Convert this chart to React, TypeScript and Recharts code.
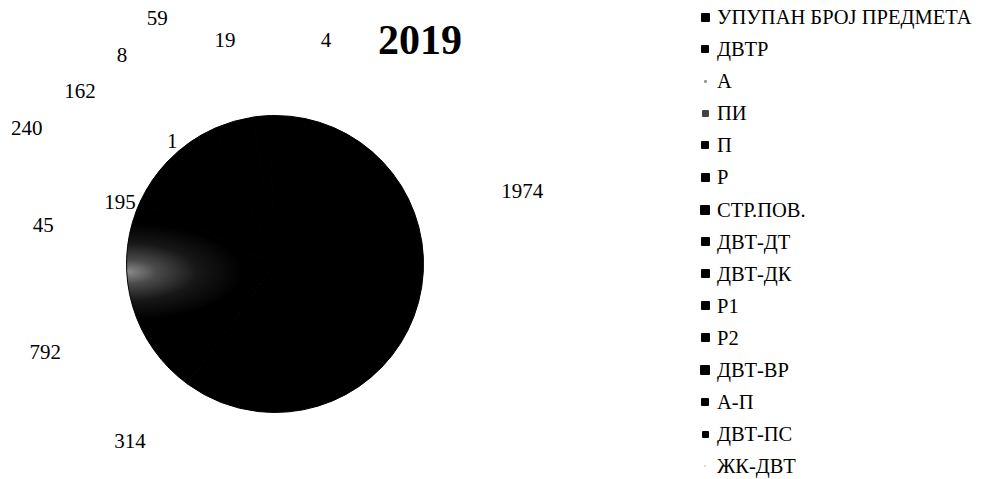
import React from 'react';
import { PieChart, Pie, Cell, Legend } from 'recharts';

// categories in legend order, with the number of cases per category
const CATEGORIES = [
    'УПУПАН БРОЈ ПРЕДМЕТА',
    'ДВТР',
    'А',
    'ПИ',
    'П',
    'Р',
    'СТР.ПОВ.',
    'ДВТ-ДТ',
    'ДВТ-ДК',
    'Р1',
    'Р2',
    'ДВТ-ВР',
    'А-П',
    'ДВТ-ПС',
    'ЖК-ДВТ',
];
const VALUES = [1974, 314, 792, 45, 195, 1, 240, 162, 8, 59, 19, 4, 0, 0, 0];
const TITLE = '2019';

// scanned look: every slice came out black, one with a grey smudge
const SLICE_COLORS = [
    '#000', '#000', 'url(#scanPatch)', '#000', '#000', '#000', '#000', '#000',
    '#000', '#000', '#000', '#000', '#000', '#000', '#000',
];
// legend marker style: [size, colour]
const MARKERS: [number, string][] = [
    [9, '#000'], [8, '#000'], [3, '#999'], [7, '#444'], [8, '#000'], [9, '#000'], [10, '#000'],
    [9, '#000'], [9, '#000'], [9, '#000'], [9, '#000'], [10, '#000'], [8, '#000'], [7, '#000'], [2, '#ccc'],
];
// label placement tweak around each slice: [angle shift in degrees, distance from centre]
const LABEL_LAYOUT: [number, number][] = [
    [-19.7, 258], [18.1, 229], [-4.3, 246], [-13.4, 235], [-12.5, 167], [6.6, 160],
    [-26.2, 283], [-32.2, 261], [-28.1, 259], [-20.6, 273], [-11.3, 230], [13.0, 230],
];

const data = CATEGORIES.map((name, i) => ({ name, value: VALUES[i] }));

const SERIF = '"Liberation Serif", "Times New Roman", Times, serif';
const ROW = 32.1;

const renderLabel = (props: any) => {
    const { cx, cy, midAngle, index, value } = props;
    if (!value) return null;
    const [shift, dist] = LABEL_LAYOUT[index] || [0, 200];
    const compass = ((90 - midAngle + shift) * Math.PI) / 180;
    const x = cx + dist * Math.sin(compass);
    const y = cy - dist * Math.cos(compass);
    return (
        <text x={x} y={y} textAnchor="middle" dominantBaseline="central"
            style={{ fontFamily: SERIF }} fontSize={21} fill="#000">
            {value}
        </text>
    );
};

const renderLegend = (props: any) => {
    // keep the legend in the data order, not alphabetical
    const items = [...(props.payload || [])].sort(
        (a: any, b: any) => CATEGORIES.indexOf(a.value) - CATEGORIES.indexOf(b.value)
    );
    return (
        <div style={{ fontFamily: SERIF, fontSize: 20.5, color: '#000' }}>
            {items.map((entry: any) => {
                const i = CATEGORIES.indexOf(entry.value);
                const [size, color] = MARKERS[i] || [9, '#000'];
                return (
                    <div key={entry.value} style={{ height: ROW, position: 'relative', whiteSpace: 'nowrap' }}>
                        <span style={{
                            position: 'absolute', left: 9 - size / 2, top: 17 - size / 2,
                            width: size, height: size, background: color, borderRadius: 1,
                        }} />
                        <span style={{ position: 'absolute', left: 21, top: 8, lineHeight: '18px', fontFamily: SERIF }}>
                            {entry.value}
                        </span>
                    </div>
                );
            })}
        </div>
    );
};

const App: React.FC = () => {
    return (
        <div style={{ position: 'absolute', left: 0, top: 0, width: 989, height: 479, background: '#fff', overflow: 'hidden' }}>
            <PieChart width={989} height={479} margin={{ top: 0, right: 0, bottom: 0, left: 0 }}>
                <defs>
                    <radialGradient id="scanPatch" gradientUnits="userSpaceOnUse" cx={128} cy={272} r={115}
                        gradientTransform="translate(128 272) scale(1 0.42) translate(-128 -272)">
                        <stop offset="0%" stopColor="#8a8a8a" />
                        <stop offset="25%" stopColor="#4a4a4a" />
                        <stop offset="60%" stopColor="#171717" />
                        <stop offset="100%" stopColor="#000" />
                    </radialGradient>
                </defs>
                <Pie
                    data={data}
                    dataKey="value"
                    nameKey="name"
                    cx={275}
                    cy={264}
                    outerRadius={148.5}
                    startAngle={90}
                    endAngle={-270}
                    stroke="#000"
                    strokeWidth={1}
                    label={renderLabel}
                    labelLine={false}
                    isAnimationActive={false}
                >
                    {data.map((d, i) => (
                        <Cell key={d.name} fill={SLICE_COLORS[i]} />
                    ))}
                </Pie>
                <Legend
                    layout="vertical"
                    verticalAlign="top"
                    align="right"
                    content={renderLegend}
                    wrapperStyle={{ left: 696, top: 0, width: 293 }}
                />
            </PieChart>
            <div style={{
                position: 'absolute', left: 420, top: 40, transform: 'translate(-50%, -50%)',
                fontFamily: SERIF, fontWeight: 'bold', fontSize: 42, lineHeight: 1,
            }}>
                {TITLE}
            </div>
        </div>
    );
};

export default App;
